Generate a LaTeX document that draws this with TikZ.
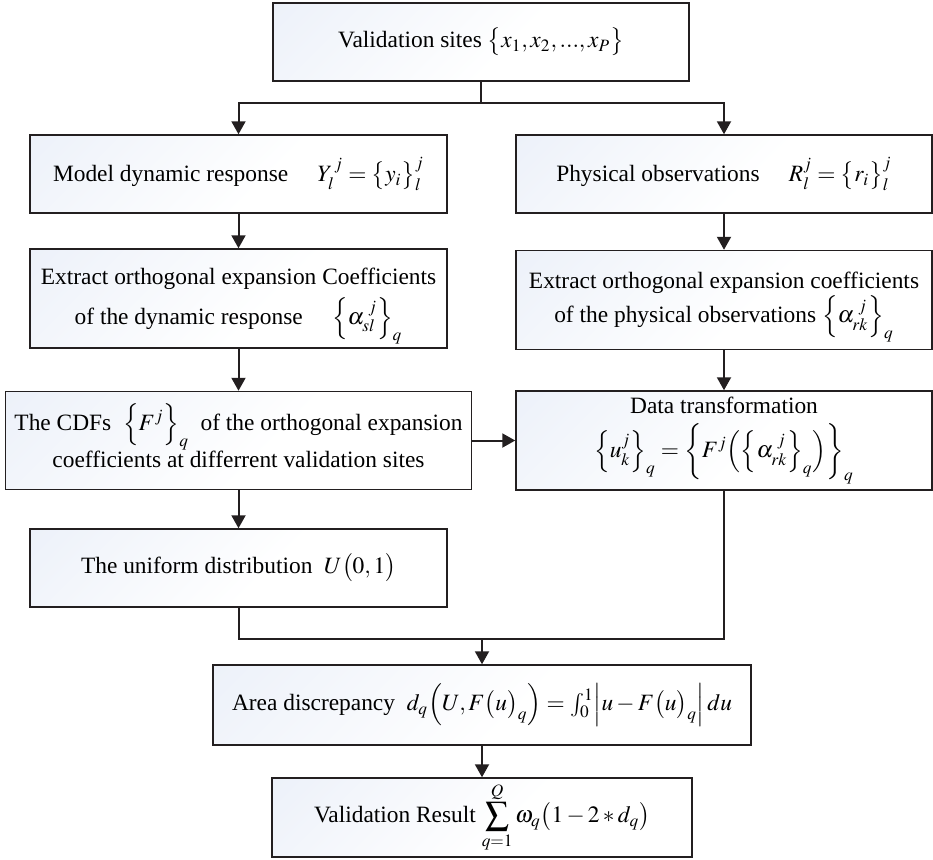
\documentclass[tikz,border=0pt]{standalone}
\usepackage{amsmath}
\usepackage{mathptmx}
\usepackage{fontspec}
\setmainfont{Liberation Serif}
\usetikzlibrary{arrows.meta}

\definecolor{ink}{RGB}{35,31,32}
\definecolor{boxtint}{RGB}{230,236,247}
\pgfdeclareverticalshading{boxfade}{100bp}{color(0bp)=(white); color(45bp)=(white); color(100bp)=(boxtint)}

\tikzset{
  flowbox/.style={draw=ink, line width=0.75pt, shading=boxfade, shading angle=45,
    align=center, inner sep=0pt, font=\fontsize{11.7}{17}\selectfont},
  link/.style={draw=ink, line width=1pt},
  arr/.style={link, -{Triangle[length=6.5pt,width=7pt]}}
}

\begin{document}
\begin{tikzpicture}[x=0.5pt, y=-0.5pt]
\useasboundingbox (0,0) rectangle (933,859);

% boxes
\node[flowbox, minimum width=208pt, minimum height=39pt] (top) at (481,42)
  {Validation sites $\bigl\{x_1, x_2, ..., x_P\bigr\}$};

\node[flowbox, minimum width=208.5pt, minimum height=39pt] (model) at (238.5,174)
  {Model dynamic response \quad $Y_l^{\,j} = \bigl\{y_i\bigr\}_l^j$};
\node[flowbox, minimum width=208pt, minimum height=39pt] (phys) at (724,174)
  {Physical observations \quad $R_l^j = \bigl\{r_i\bigr\}_l^j$};

\node[flowbox, minimum width=208.5pt, minimum height=49.5pt] (extL) at (238.5,298.5)
  {Extract orthogonal expansion Coefficients\\[3pt]
   of the dynamic response \quad \smash{$\Bigl\{\alpha_{sl}^{\;j}\Bigr\}_q$}};
\node[flowbox, minimum width=208pt, minimum height=49.5pt] (extR) at (724,300)
  {Extract orthogonal expansion coefficients\\
   of the physical observations \smash{$\Bigl\{\alpha_{rk}^{\;j}\Bigr\}_q$}};

\node[flowbox, minimum width=233pt, minimum height=49pt] (cdf) at (238.5,440.5)
  {The CDFs \ \smash{$\Bigl\{F^j\Bigr\}_q$} \ of the orthogonal expansion\\[1.5pt]
   coefficients at differrent validation sites};
\node[flowbox, minimum width=208pt, minimum height=49.5pt] (dt) at (724,440.5)
  {Data transformation\\[5pt]
   \smash[t]{$\Bigl\{u_k^j\Bigr\}_q = \biggl\{F^j\Bigl(\Bigl\{\alpha_{rk}^{\;j}\Bigr\}_q\Bigr)\biggr\}_q$}};

\node[flowbox, minimum width=208.5pt, minimum height=39pt] (uni) at (238.5,568)
  {The uniform distribution \ $U\bigl(0,1\bigr)$};

\node[flowbox, minimum width=269pt, minimum height=40pt] (area) at (482,705)
  {Area discrepancy \ $d_q\Bigl(U, F\bigl(u\bigr)_q\Bigr) = \int_0^1 \Bigl|u - F\bigl(u\bigr)_q\Bigr|\,du$};

\node[flowbox, minimum width=210pt, minimum height=39.5pt] (val) at (482,817.5)
  {Validation Result $\displaystyle\sum_{q=1}^{Q}\omega_q\bigl(1-2*d_q\bigr)$};

% junction points
\coordinate (split) at (481,103);
\coordinate (merge) at (482,639);

% connectors
\draw[link] (top.south) -- (split);
\draw[arr] (split) -| (model.north);
\draw[arr] (split) -| (phys.north);
\draw[arr] (model) -- (extL);
\draw[arr] (phys) -- (extR);
\draw[arr] (extL) -- (cdf);
\draw[arr] (extR) -- (dt);
\draw[arr] (cdf) -- (dt);
\draw[arr] (cdf) -- (uni);
\draw[link] (uni.south) |- (merge);
\draw[link] (dt.south) |- (merge);
\draw[arr] (merge) -- (area.north);
\draw[arr] (area) -- (val);
\end{tikzpicture}
\end{document}
